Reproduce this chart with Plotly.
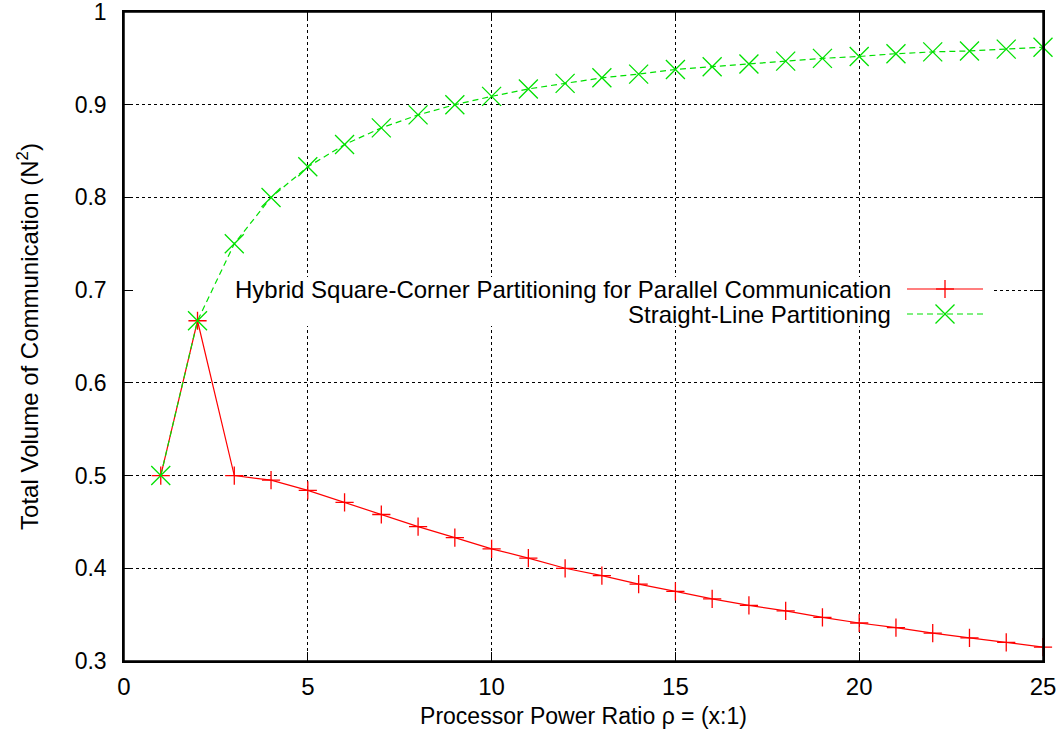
import plotly.graph_objects as go

ratio = list(range(1, 26))
hybrid_scp = [0.500, 0.667, 0.500, 0.495, 0.484, 0.471, 0.458, 0.445, 0.433, 0.421,
              0.411, 0.400, 0.392, 0.383, 0.375, 0.367, 0.360, 0.354, 0.347, 0.341,
              0.336, 0.330, 0.325, 0.320, 0.315]
straight_line = [0.500, 0.667, 0.750, 0.800, 0.833, 0.857, 0.875, 0.889, 0.900, 0.909,
                 0.917, 0.923, 0.929, 0.933, 0.938, 0.941, 0.944, 0.947, 0.950, 0.952,
                 0.955, 0.957, 0.958, 0.960, 0.962]
series_names = ["Hybrid Square-Corner Partitioning for Parallel Communication",
                "Straight-Line Partitioning"]
x_ticks = [0, 5, 10, 15, 20, 25]
y_ticks = [0.3, 0.4, 0.5, 0.6, 0.7, 0.8, 0.9, 1.0]
y_tick_text = ["0.3", "0.4", "0.5", "0.6", "0.7", "0.8", "0.9", "1"]

RED = "#ff0000"
GREEN = "#00e000"
FONT = "Liberation Sans, Arial, Helvetica, sans-serif"
FS = 24

X_RANGE = [0, 25]
Y_RANGE = [0.3, 1.0]

fig = go.Figure()
fig.add_trace(go.Scatter(
    x=ratio, y=hybrid_scp, mode="lines+markers", name=series_names[0],
    line=dict(color=RED, width=1.2),
    marker=dict(symbol="cross-thin", size=13, line=dict(color=RED, width=1.3)),
    cliponaxis=False, showlegend=False))
fig.add_trace(go.Scatter(
    x=ratio, y=straight_line, mode="lines+markers", name=series_names[1],
    line=dict(color=GREEN, width=1.2, dash="6px,4px"),
    marker=dict(symbol="x-thin", size=19, line=dict(color=GREEN, width=1.3)),
    cliponaxis=False, showlegend=False))

axis_common = dict(
    showline=True, linecolor="black", linewidth=1.5, mirror="allticks",
    ticks="inside", ticklen=9, tickwidth=1.2, tickcolor="black",
    showgrid=True, gridcolor="black", gridwidth=1, griddash="dot",
    zeroline=False, automargin=False, ticklabeloverflow="allow",
)
fig.update_xaxes(range=X_RANGE, tickvals=x_ticks, ticklabelstandoff=3,
                 tickfont=dict(family=FONT, size=FS, color="black"),
                 title=dict(text="Processor Power Ratio ρ = (x:1)",
                            font=dict(family=FONT, size=FS - 1, color="black"), standoff=9),
                 **axis_common)
fig.update_yaxes(range=Y_RANGE, tickvals=y_ticks, ticktext=y_tick_text, ticklabelstandoff=11,
                 tickfont=dict(family=FONT, size=FS - 1, color="black"),
                 title=dict(text="Total Volume of Communication (N<sup>2</sup>)",
                            font=dict(family=FONT, size=FS, color="black"), standoff=29),
                 **axis_common)

# key (gnuplot style: text left, sample right), white box under the data
L, R, T, B = 124, 1043, 12, 661
W, H = R - L, B - T
def px(xp):
    return (xp - L) / W
def py(yp):
    return (B - yp) / H
def dx(xp):
    return X_RANGE[0] + px(xp) * (X_RANGE[1] - X_RANGE[0])
def dy(yp):
    return Y_RANGE[0] + py(yp) * (Y_RANGE[1] - Y_RANGE[0])

shapes = [dict(type="rect", xref="x", yref="y", x0=dx(126), x1=dx(993),
               y0=dy(326), y1=dy(277), fillcolor="white", line=dict(width=0),
               layer="between"),
          dict(type="rect", xref="paper", yref="paper", x0=0, x1=1, y0=0, y1=1,
               line=dict(color="black", width=1.5), fillcolor="rgba(0,0,0,0)",
               layer="above")]
rows = [(289, RED, "solid", "cross"), (314, GREEN, "dash", "x")]
annotations = []
for (yy, col, dsh, sym), name in zip(rows, series_names):
    shapes.append(dict(type="line", xref="paper", yref="paper", x0=px(907), x1=px(983),
                       y0=py(yy), y1=py(yy), line=dict(color=col, width=1.2,
                       dash="6px,4px" if dsh == "dash" else "solid")))
    cx, cy = px(945), py(yy)
    if sym == "cross":
        segs = [(-9, 0, 9, 0), (0, -9, 0, 9)]
    else:
        segs = [(-9.5, -9.5, 9.5, 9.5), (-9.5, 9.5, 9.5, -9.5)]
    for x0, y0, x1, y1 in segs:
        shapes.append(dict(type="line", xref="paper", yref="paper",
                           xsizemode="pixel", ysizemode="pixel", xanchor=cx, yanchor=cy,
                           x0=x0, x1=x1, y0=y0, y1=y1, line=dict(color=col, width=1.3)))
    annotations.append(dict(xref="paper", yref="paper", x=px(893), y=py(yy),
                            xanchor="right", yanchor="middle", showarrow=False,
                            text=name, font=dict(family=FONT, size=FS, color="black")))

fig.update_layout(
    width=1058, height=741, autosize=False,
    margin=dict(l=L, r=1058 - R, t=T, b=741 - B),
    paper_bgcolor="white", plot_bgcolor="white",
    shapes=shapes, annotations=annotations, showlegend=False,
)
fig.write_html("out.html")
